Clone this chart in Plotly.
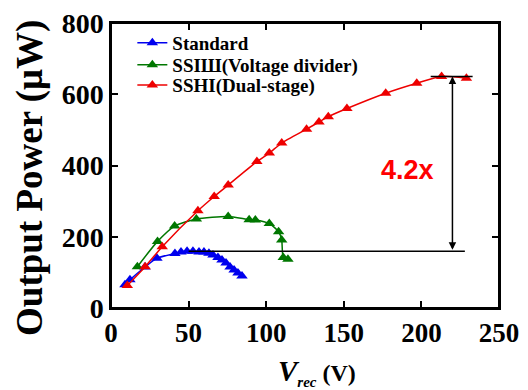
import plotly.graph_objects as go

# ---- data ----
std_x = [9, 12.2, 21.9, 29.6, 41.2, 45.1, 49, 52.8, 56.7, 59.9, 63.1, 65.7, 68.9, 71.5, 74.1, 76.7, 79.3, 81.8, 84.4]
std_y = [65, 79, 115, 140, 153, 157, 159, 159, 157, 157, 154, 149, 142, 135, 126, 115, 107, 98, 90]

vd_x = [17, 30, 41, 55, 75.5, 89, 93, 102, 108, 110, 111, 114]
vd_y = [116, 187, 230, 250, 257, 248, 247, 237, 214, 191, 142, 137]

ds_x = [10.5, 22, 33, 56, 66.5, 75.5, 94, 102, 110, 126, 134, 140, 152, 177, 197, 213, 229]
ds_y = [63, 116, 172, 273, 313, 345, 411, 435, 463, 502, 522, 537, 560, 603, 631, 650, 645]

names = ["Standard", "SSIШ(Voltage divider)", "SSHI(Dual-stage)"]
colors = ["#0000ee", "#007700", "#ee0000"]
ratio_text = "4.2x"
x_ticks = [0, 50, 100, 150, 200, 250]
y_ticks = [0, 200, 400, 600, 800]
y_title = "Output Power (μW)"
x_title = ("<i>V</i><sub><i><span style='font-size:15px'>rec</span></i></sub>"
           "<span style='font-size:24px'> (V)</span>")

SERIF = "Liberation Serif"
legend_ids = ["legend", "legend2", "legend3"]
legend_y = [0.93, 0.853, 0.782]
X_RANGE = [0, 250]
Y_RANGE = [0, 800]

fig = go.Figure()
for xs, ys, nm, c, lg in zip([std_x, vd_x, ds_x], [std_y, vd_y, ds_y], names, colors, legend_ids):
    fig.add_trace(go.Scatter(
        x=xs, y=ys, name=nm, mode="lines+markers", legend=lg,
        line=dict(color=c, width=1.5, shape="spline", smoothing=0.6),
        marker=dict(symbol="triangle-up", size=10, color=c),
    ))

base = max(std_y)
top = max(ds_y)
# plot frame
fig.add_shape(type="rect", xref="paper", yref="paper", x0=0, x1=1, y0=0, y1=1,
              line=dict(color="black", width=2), fillcolor="rgba(0,0,0,0)", layer="above")
# reference lines
fig.add_shape(type="line", xref="x", yref="y", x0=50, x1=228, y0=base, y1=base,
              line=dict(color="black", width=1.5))
fig.add_shape(type="line", xref="x", yref="y", x0=206, x1=233, y0=top, y1=top,
              line=dict(color="black", width=1.5))
# double-headed arrow
fig.add_annotation(x=220, y=top, ax=220, ay=base, xref="x", yref="y", axref="x", ayref="y",
                   text="", showarrow=True, arrowhead=2, startarrowhead=2, arrowside="end+start",
                   arrowsize=1, arrowwidth=1.5, arrowcolor="black")
fig.add_annotation(x=191, y=388, xref="x", yref="y", text="<b>" + ratio_text + "</b>",
                   showarrow=False, font=dict(family="Liberation Sans", size=27, color="#ff0000"))
# axis titles
fig.add_annotation(x=-0.209, y=0.456, xref="paper", yref="paper", text=y_title,
                   textangle=-90, showarrow=False, xanchor="center", yanchor="middle",
                   font=dict(family=SERIF, size=37, color="black", weight="bold"))
fig.add_annotation(x=0.531, y=-0.225, xref="paper", yref="paper", text=x_title,
                   showarrow=False, xanchor="center", yanchor="middle",
                   font=dict(family=SERIF, size=29, color="black", weight="bold"))

legend_common = dict(x=0.055, xanchor="left", yanchor="middle",
                     bgcolor="rgba(0,0,0,0)", borderwidth=0,
                     font=dict(family=SERIF, size=19, color="black", weight="bold"),
                     itemwidth=30)

# page body has an 8px margin: the figure is sized/margined to compensate
fig.update_layout(
    width=520, height=382,
    margin=dict(l=103, r=29, t=15, b=82, autoexpand=False),
    paper_bgcolor="white", plot_bgcolor="white",
    font=dict(family=SERIF, color="black"),
    showlegend=True,
    legend=dict(y=legend_y[0], **legend_common),
    legend2=dict(y=legend_y[1], **legend_common),
    legend3=dict(y=legend_y[2], **legend_common),
    xaxis=dict(range=X_RANGE, tickvals=x_ticks, ticks="inside", ticklen=7, tickwidth=1.5,
               tickcolor="black", showline=True, linecolor="black", linewidth=1.5, mirror="all",
               showgrid=False, zeroline=False, automargin=False, ticklabeloverflow="allow",
               tickfont=dict(family=SERIF, size=27, color="black", weight="bold")),
    yaxis=dict(range=Y_RANGE, tickvals=y_ticks, ticks="inside", ticklen=7, tickwidth=1.5,
               tickcolor="black", showline=True, linecolor="black", linewidth=1.5, mirror="all",
               showgrid=False, zeroline=False, automargin=False, ticklabeloverflow="allow",
               tickfont=dict(family=SERIF, size=28, color="black", weight="bold")),
)

fig.write_html("out.html")
